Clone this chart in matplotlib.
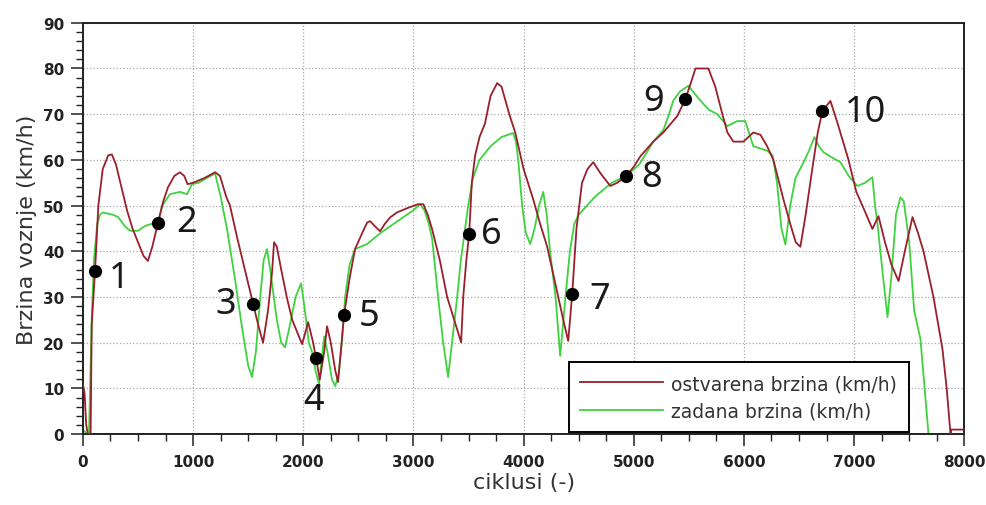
import numpy as np
import matplotlib
matplotlib.use('Agg')
import matplotlib.pyplot as plt
from matplotlib.ticker import MultipleLocator

red_x = [0, 15, 30, 45, 70, 80, 110, 140, 180, 230, 263, 300, 350, 400, 450, 500, 550, 590, 630, 681,
         730, 772, 830, 880, 920, 950, 1000, 1100, 1200, 1244, 1300, 1335, 1400, 1450, 1500, 1544, 1590,
         1635, 1680, 1717, 1735, 1760, 1800, 1850, 1900, 1950, 1990, 2044, 2090, 2116, 2150, 2190, 2216,
         2250, 2290, 2316, 2340, 2370, 2420, 2470, 2535, 2580, 2607, 2650, 2697, 2740, 2788, 2850, 2950,
         3040, 3090, 3130, 3170, 3240, 3306, 3370, 3433, 3452, 3480, 3506, 3530, 3560, 3600, 3650, 3700,
         3760, 3800, 3870, 3924, 4000, 4087, 4150, 4214, 4260, 4314, 4360, 4405, 4441, 4480, 4530, 4580,
         4632, 4700, 4787, 4850, 4932, 5000, 5060, 5177, 5268, 5395, 5468, 5520, 5560, 5677, 5740, 5804,
         5850, 5904, 5995, 6040, 6085, 6150, 6210, 6267, 6358, 6420, 6470, 6512, 6560, 6620, 6670, 6712,
         6785, 6850, 6949, 7020, 7075, 7166, 7221, 7280, 7340, 7403, 7460, 7530, 7580, 7630, 7720, 7802,
         7840, 7875, 7880, 8000]
red_y = [11, 9, 2, 0, 0, 24, 35.7, 50, 58, 61, 61.2, 59, 54, 49, 45, 42, 39, 37.9, 41, 46.2,
         51, 54, 56.5, 57.3, 56.5, 54.7, 55, 56, 57.3, 56.5, 52, 50, 43, 38, 33, 28.5, 24,
         20, 27, 35.5, 42, 41, 36, 30, 25, 22, 19.7, 24.5, 20, 16.6, 12, 18, 23.6,
         20, 14, 11.4, 18, 26, 34, 40.5, 44, 46.3, 46.6, 45.5, 44.4, 46, 47.4, 48.5, 49.5,
         50.3, 50.3, 48, 44.8, 38, 30, 25, 20.1, 30, 38, 43.8, 55, 61, 65, 68, 74,
         76.8, 76, 70, 66, 58, 51.4, 46, 41, 36, 30, 25, 20.4, 30.6, 45, 55, 58,
         59.5, 57, 54.3, 55, 56.5, 58.5, 60.8, 64, 66, 69.6, 73.3, 77, 80, 80, 76, 70,
         66, 64, 64, 65, 66, 65.5, 63, 60, 51.4, 46, 42, 41, 48, 58, 66, 70.7,
         72.9, 68, 60, 53, 50, 44.9, 47.7, 42, 37, 33.5, 40, 47.5, 44, 40, 30, 18.6,
         10, 0, 1, 1]

# zadana brzina (target speed)
green_x = [0, 40, 55, 65, 80, 100, 130, 155, 180, 272, 320, 380, 427, 500, 560, 620, 681, 720, 790, 880,
           945, 990, 1050, 1120, 1200, 1250, 1307, 1380, 1440, 1500, 1535, 1570, 1610, 1640, 1671, 1700,
           1760, 1800, 1835, 1880, 1930, 1980, 2010, 2050, 2080, 2110, 2143, 2170, 2190, 2220, 2260, 2290,
           2320, 2350, 2380, 2420, 2470, 2580, 2700, 2850, 3000, 3060, 3100, 3140, 3170, 3224, 3270, 3315,
           3360, 3397, 3430, 3452, 3497, 3540, 3600, 3700, 3800, 3905, 3930, 3951, 3987, 4020, 4060, 4100,
           4140, 4178, 4210, 4240, 4290, 4332, 4380, 4420, 4460, 4500, 4650, 4800, 4932, 5050, 5177, 5268,
           5320, 5359, 5420, 5495, 5604, 5680, 5758, 5849, 5940, 6012, 6085, 6212, 6260, 6300, 6340, 6376,
           6420, 6467, 6531, 6590, 6640, 6680, 6721, 6800, 6876, 6950, 7030, 7100, 7166, 7190, 7212, 7260,
           7303, 7340, 7380, 7420, 7450, 7500, 7545, 7602, 7675, 8000]
green_y = [1, 0, 0, 10, 25, 38, 46, 48, 48.5, 48, 47.5, 45.5, 44.5, 44.5, 45.5, 46, 46.2, 50, 52.5, 53,
           52.5, 54.7, 55, 56, 57, 52, 45, 34, 24, 15, 12.5, 18, 30, 38, 40.5, 36,
           25, 20, 19, 24, 30, 33, 28, 20, 18, 14, 11, 17, 21.4, 18, 12, 10.5,
           13, 20, 30, 37, 40.5, 41.6, 44, 46.5, 49, 50.3, 49, 46, 42.7, 30, 20, 12.5,
           22, 30, 38, 42, 50, 56, 60, 63, 65, 65.9, 64, 60, 50, 44, 41.6, 45,
           50, 53, 48, 40, 30, 17.1, 30, 40, 46, 48, 52, 55, 56.5, 59, 64, 66.5,
           70, 73, 75, 76.2, 73, 71, 70, 67.4, 68.5, 68.5, 63, 62, 61, 55, 45, 41.5,
           50, 56, 59, 62, 65, 63, 61.7, 60.5, 59.5, 56.5, 54.3, 55, 56.2, 50, 46, 35,
           25.6, 35, 48, 51.8, 51, 42, 27, 20.8, 0, 0]

# numbered points
pt_x = [110, 681, 1544, 2116, 2370, 3506, 4441, 4932, 5468, 6712]
pt_y = [35.7, 46.2, 28.5, 16.6, 26.0, 43.8, 30.6, 56.5, 73.3, 70.7]
pt_lbl = ['1', '2', '3', '4', '5', '6', '7', '8', '9', '10']

# label placement relative to the dot (pixels, ha)
lbl_off = [(14, -7, 'left'), (18, 1, 'left'), (-17, 0, 'right'), (-2, -42, 'center'),
           (15, -1, 'left'), (12, 0, 'left'), (17, -5, 'left'), (15, -1, 'left'),
           (-21, -2, 'right'), (22, -1, 'left')]

fig = plt.figure(figsize=(9.87, 5.06), dpi=100)
ax = fig.add_axes([0.084, 0.140, 0.893, 0.813])

ax.plot(red_x, red_y, color='#9a1f2c', lw=1.3, label='ostvarena brzina (km/h)', zorder=3)
ax.plot(green_x, green_y, color='#3fd23f', lw=1.3, label='zadana brzina (km/h)', zorder=2)
ax.plot(pt_x, pt_y, 'o', color='black', ms=8.5, zorder=5)

for x, y, t, (dx, dy, ha) in zip(pt_x, pt_y, pt_lbl, lbl_off):
    ax.annotate(t, xy=(x, y), xytext=(dx, dy), textcoords='offset pixels',
                ha=ha, va='center', fontsize=26, family='Noto Sans', color='#1a1a1a', zorder=6)

ax.set_xlim(0, 8000)
ax.set_ylim(0, 90)
ax.xaxis.set_major_locator(MultipleLocator(1000))
ax.xaxis.set_minor_locator(MultipleLocator(250))
ax.yaxis.set_major_locator(MultipleLocator(10))
ax.yaxis.set_minor_locator(MultipleLocator(2))
ax.grid(True, which='major', linestyle=':', color='#a8a8a8', lw=0.9)

ax.tick_params(which='major', direction='out', length=8.5, width=1.1, labelsize=11, colors='#222222')
ax.tick_params(which='minor', direction='out', length=5, width=1.0, colors='#222222')
ax.tick_params(axis='x', which='major', pad=6)
ax.tick_params(axis='y', which='major', pad=5)
for lab in ax.get_xticklabels() + ax.get_yticklabels():
    lab.set_fontweight('bold')
for sp in ax.spines.values():
    sp.set_linewidth(1.4)
    sp.set_color('#222222')

ax.set_xlabel('ciklusi (-)', fontsize=16, color='#333333', labelpad=2)
ax.set_ylabel('Brzina voznje (km/h)', fontsize=16, color='#333333', labelpad=4)

leg = ax.legend(loc='lower left', bbox_to_anchor=(0.551, 0.005), borderaxespad=0, fontsize=13.5,
                handlelength=4.4, handletextpad=0.45, labelspacing=0.45, borderpad=0.62,
                fancybox=False, framealpha=1, edgecolor='black')
leg.get_frame().set_linewidth(1.4)
for t in leg.get_texts():
    t.set_color('#333333')

fig.savefig('out.png', dpi=100, facecolor='white')
